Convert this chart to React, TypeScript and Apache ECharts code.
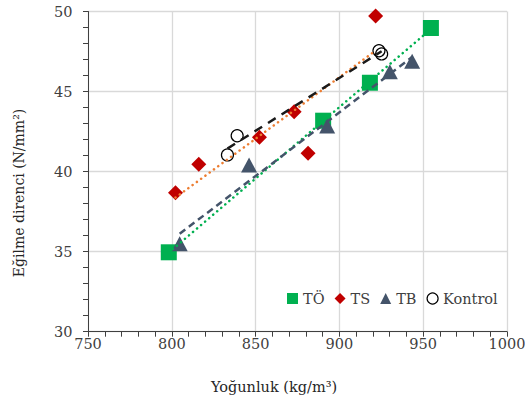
import React, { useEffect, useRef } from "react";
import * as echarts from "echarts";

const xTicks = [750, 800, 850, 900, 950, 1000];
const yTicks = [30, 35, 40, 45, 50];

const toX = [798.2, 890.3, 918.2, 954.6];
const toY = [34.96, 43.18, 45.55, 48.97];

const tsX = [802.2, 816.1, 852.3, 873.0, 881.3, 921.6];
const tsY = [38.68, 40.46, 42.14, 43.74, 41.14, 49.72];

const tbX = [804.7, 846.1, 892.7, 930.1, 943.4];
const tbY = [35.5, 40.41, 42.85, 46.24, 46.9];

const kX = [833.2, 839.0, 923.6, 925.2];
const kY = [41.04, 42.24, 47.55, 47.35];

const FONT = "DejaVu Serif";
const FS = 14.5;

function pairs(xs: number[], ys: number[]) {
  return xs.map((x, i) => [x, ys[i]]);
}

function fit(xs: number[], ys: number[]) {
  const n = xs.length;
  const mx = xs.reduce((a, b) => a + b, 0) / n;
  const my = ys.reduce((a, b) => a + b, 0) / n;
  let sxy = 0;
  let sxx = 0;
  for (let i = 0; i < n; i++) {
    sxy += (xs[i] - mx) * (ys[i] - my);
    sxx += (xs[i] - mx) * (xs[i] - mx);
  }
  const b = sxy / sxx;
  const a = my - b * mx;
  const x0 = Math.min(...xs);
  const x1 = Math.max(...xs);
  return [
    [x0, a + b * x0],
    [x1, a + b * x1],
  ];
}

export default function App() {
  const ref = useRef<HTMLDivElement>(null);
  useEffect(() => {
    document.body.style.margin = "0";
    if (!ref.current) return;
    const chart = echarts.init(ref.current, undefined, { renderer: "svg" });
    const lineSeries = (name: string, xs: number[], ys: number[], color: string, dash: number[], cap: string) => ({
      name,
      type: "line",
      data: fit(xs, ys),
      showSymbol: false,
      symbol: "none",
      z: 5,
      silent: true,
      lineStyle: { color, width: 2.5, type: dash, cap },
    });
    chart.setOption({
      animation: false,
      backgroundColor: "#ffffff",
      textStyle: { fontFamily: FONT },
      grid: {
        left: 88,
        top: 11.5,
        width: 419,
        height: 320.2,
        containLabel: false,
        outerBoundsMode: "none",
      },
      xAxis: {
        type: "value",
        min: 750,
        max: 1000,
        interval: 50,
        axisLine: { show: true, lineStyle: { color: "#404040", width: 1 } },
        axisTick: { show: true, length: 5, lineStyle: { color: "#404040" } },
        minorTick: { show: true, splitNumber: 5, length: 5, lineStyle: { color: "#404040" } },
        splitLine: { show: true, lineStyle: { color: "#d9d9d9", width: 1.3 } },
        axisLabel: {
          margin: 5,
          fontFamily: FONT,
          fontSize: FS,
          color: "#404040",
          formatter: (v: number) => (xTicks.includes(v) ? String(v) : ""),
        },
      },
      yAxis: {
        type: "value",
        min: 30,
        max: 50,
        interval: 5,
        axisLine: { show: true, lineStyle: { color: "#404040", width: 1 } },
        axisTick: { show: true, length: 5, lineStyle: { color: "#404040" } },
        minorTick: { show: true, splitNumber: 5, length: 5, lineStyle: { color: "#404040" } },
        splitLine: { show: true, lineStyle: { color: "#d9d9d9", width: 1.3 } },
        axisLabel: {
          margin: 15.5,
          fontFamily: FONT,
          fontSize: FS,
          color: "#404040",
          formatter: (v: number) => (yTicks.includes(v) ? String(v) : ""),
        },
      },
      legend: {
        left: 287,
        top: 291,
        padding: 0,
        itemWidth: 11,
        itemHeight: 11,
        itemGap: 10,
        textStyle: { fontFamily: FONT, fontSize: FS, color: "#404040" },
        data: [
          { name: "TÖ", icon: "rect" },
          { name: "TS", icon: "diamond" },
          { name: "TB", icon: "triangle" },
          {
            name: "Kontrol",
            icon: "circle",
            itemStyle: { color: "rgba(255,255,255,0)", borderColor: "#000000", borderWidth: 1.2 },
          },
        ],
      },
      graphic: [
        {
          type: "text",
          x: 274,
          y: 387,
          style: {
            text: "Yoğunluk (kg/m³)",
            fontFamily: FONT,
            fontSize: FS,
            fill: "#262626",
            textAlign: "center",
            textVerticalAlign: "middle",
          },
        },
        {
          type: "text",
          x: 19,
          y: 193,
          rotation: Math.PI / 2,
          style: {
            text: "Eğilme direnci (N/mm²)",
            fontFamily: FONT,
            fontSize: 14,
            fill: "#262626",
            textAlign: "center",
            textVerticalAlign: "middle",
          },
        },
      ],
      series: [
        {
          name: "TÖ",
          type: "scatter",
          symbol: "rect",
          symbolSize: 16,
          data: pairs(toX, toY),
          itemStyle: { color: "#00b050", opacity: 1 },
          z: 3,
        },
        {
          name: "TS",
          type: "scatter",
          symbol: "diamond",
          symbolSize: [15, 15],
          data: pairs(tsX, tsY),
          itemStyle: { color: "#c00000", opacity: 1 },
          z: 3,
        },
        {
          name: "TB",
          type: "scatter",
          symbol: "triangle",
          symbolSize: [16, 15],
          data: pairs(tbX, tbY),
          itemStyle: { color: "#44546a", opacity: 1 },
          z: 3,
        },
        {
          name: "Kontrol",
          type: "scatter",
          symbol: "circle",
          symbolSize: 12,
          data: pairs(kX, kY),
          itemStyle: { color: "rgba(255,255,255,0)", borderColor: "#000000", borderWidth: 1.2, opacity: 1 },
          z: 3,
        },
        lineSeries("TÖ trend", toX, toY, "#00b050", [0.1, 5.2], "round"),
        lineSeries("TS trend", tsX, tsY, "#ed7d31", [0.1, 5.2], "round"),
        lineSeries("TB trend", tbX, tbY, "#44546a", [7, 4.5], "butt"),
        lineSeries("Kontrol trend", kX, kY, "#1a1a1a", [9, 7], "butt"),
      ],
    });
    return () => chart.dispose();
  }, []);
  return <div ref={ref} style={{ width: 525, height: 401, overflow: "hidden" }} />;
}
